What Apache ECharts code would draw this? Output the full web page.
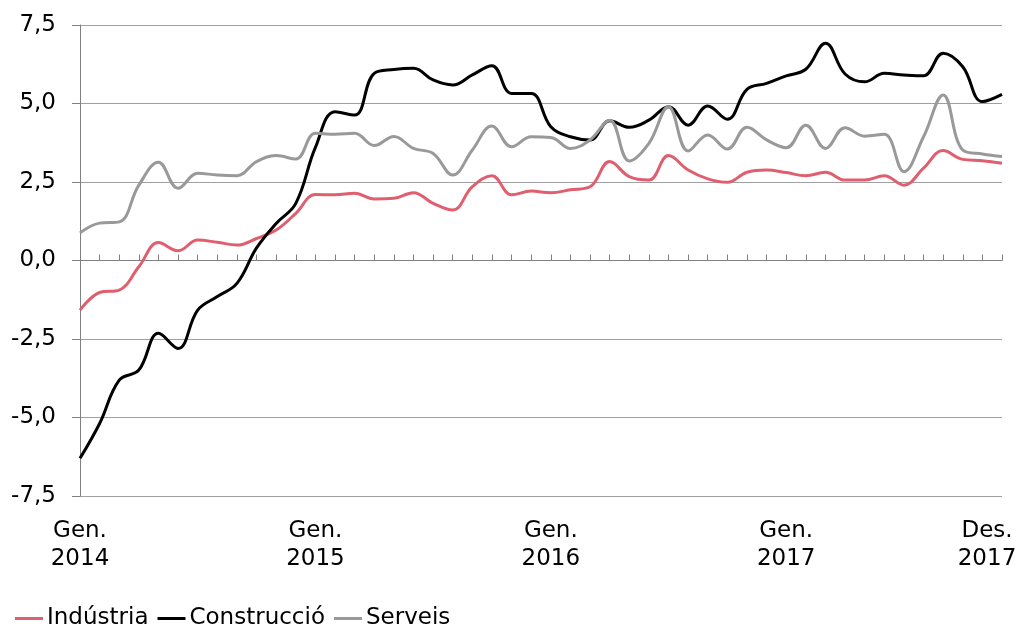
<!DOCTYPE html>
<html>
<head>
<meta charset="utf-8">
<script src="https://cdn.jsdelivr.net/npm/echarts@6/dist/echarts.min.js"></script>
<style>
  html, body { margin: 0; padding: 0; background: #fff; }
  #chart { width: 1032px; height: 628px; }
</style>
</head>
<body>
<div id="chart"></div>
<script>
// mesos i anys de l'eix x
const months = ['Gen.', 'Febr.', 'Març', 'Abr.', 'Maig', 'Juny', 'Jul.', 'Ag.', 'Set.', 'Oct.', 'Nov.', 'Des.'];
const years = ['2014', '2015', '2016', '2017'];
const shownLabels = [0, 12, 24, 36, 47]; // etiquetes visibles

const industria = [
  -1.58, -1.02, -0.94, -0.2, 0.57, 0.31, 0.65, 0.58, 0.49, 0.7, 0.97, 1.5,
  2.1, 2.09, 2.14, 1.96, 1.98, 2.16, 1.82, 1.61, 2.35, 2.7, 2.09, 2.21,
  2.16, 2.25, 2.35, 3.15, 2.67, 2.56, 3.34, 2.88, 2.6, 2.49, 2.81, 2.88,
  2.8, 2.7, 2.81, 2.56, 2.56, 2.7, 2.4, 2.94, 3.5, 3.22, 3.18, 3.1
];
const construccio = [
  -6.3, -5.19, -3.81, -3.49, -2.32, -2.8, -1.58, -1.15, -0.73, 0.4, 1.18, 1.82,
  3.6, 4.74, 4.63, 5.96, 6.08, 6.12, 5.75, 5.59, 5.91, 6.2, 5.32, 5.32,
  4.26, 3.94, 3.84, 4.45, 4.24, 4.47, 4.9, 4.31, 4.92, 4.5, 5.45, 5.64,
  5.88, 6.09, 6.92, 5.94, 5.69, 5.96, 5.91, 5.88, 6.6, 6.17, 5.06, 5.29
];
const serveis = [
  0.88, 1.19, 1.23, 2.4, 3.13, 2.3, 2.78, 2.72, 2.7, 3.15, 3.34, 3.23,
  4.05, 4.02, 4.05, 3.66, 3.95, 3.57, 3.41, 2.72, 3.52, 4.28, 3.62, 3.94,
  3.92, 3.57, 3.84, 4.47, 3.17, 3.73, 4.9, 3.49, 4.0, 3.55, 4.24, 3.84,
  3.59, 4.31, 3.57, 4.23, 3.96, 4.02, 2.83, 3.94, 5.27, 3.52, 3.39, 3.31
];

const categories = [];
years.forEach((y) => months.forEach((m) => categories.push(m + '\n' + y)));

const font = 'DejaVu Sans, sans-serif';
const fsize = 23;

let chart = echarts.init(document.getElementById('chart'));

function lineSeries(name, data, color) {
  return {
    name: name,
    type: 'line',
    data: data,
    smooth: 0.4,
    symbol: 'none',
    lineStyle: { color: color, width: 3 },
    itemStyle: { color: color },
    xAxisIndex: 0
  };
}

chart.setOption({
  animation: false,
  grid: {
    left: 80,
    right: 30,
    top: 25,
    bottom: 132,
    containLabel: false,
    outerBoundsMode: 'none'
  },
  legend: {
    left: 10,
    top: 602,
    icon: 'rect',
    itemWidth: 28,
    itemHeight: 3,
    itemGap: 9,
    textStyle: { fontSize: fsize, color: '#000', fontFamily: font, padding: [0, 0, 0, -1] },
    data: ['Indústria', 'Construcció', 'Serveis']
  },
  xAxis: [
    {
      type: 'category',
      data: categories,
      boundaryGap: false,
      position: 'bottom',
      axisLine: { show: false, onZero: false },
      axisTick: { show: false },
      splitLine: { show: false },
      axisLabel: {
        interval: (i) => shownLabels.includes(i),
        fontSize: fsize,
        lineHeight: 28,
        color: '#000',
        fontFamily: font,
        margin: 21,
        formatter: (v, i) => {
          // darrera etiqueta desplaçada perquè càpiga
          if (i === categories.length - 1) {
            return v.split('\n').map((s) => '{last|' + s + '}').join('\n');
          }
          return v;
        },
        rich: {
          last: {
            fontSize: fsize,
            lineHeight: 28,
            color: '#000',
            fontFamily: font,
            padding: [0, 30, 0, 0]
          }
        }
      }
    },
    {
      type: 'category',
      data: categories,
      boundaryGap: false,
      position: 'bottom',
      axisLine: { show: true, onZero: true, lineStyle: { color: '#808080', width: 1 } },
      axisTick: { show: true, inside: true, interval: 0, length: 6, lineStyle: { color: '#808080' } },
      axisLabel: { show: false },
      splitLine: { show: false }
    }
  ],
  yAxis: {
    type: 'value',
    min: -7.5,
    max: 7.5,
    interval: 2.5,
    axisLine: { show: true, lineStyle: { color: '#808080', width: 1 } },
    axisTick: { show: true, length: 8, lineStyle: { color: '#808080' } },
    splitLine: { show: true, lineStyle: { color: '#a0a0a0', width: 1 } },
    axisLabel: {
      fontSize: fsize,
      color: '#000',
      fontFamily: font,
      margin: 24,
      formatter: (v) => v.toFixed(1).replace('.', ',')
    }
  },
  series: [
    lineSeries('Indústria', industria, '#DF5F6E'),
    lineSeries('Construcció', construccio, '#000000'),
    lineSeries('Serveis', serveis, '#999999')
  ]
});
</script>
</body>
</html>
